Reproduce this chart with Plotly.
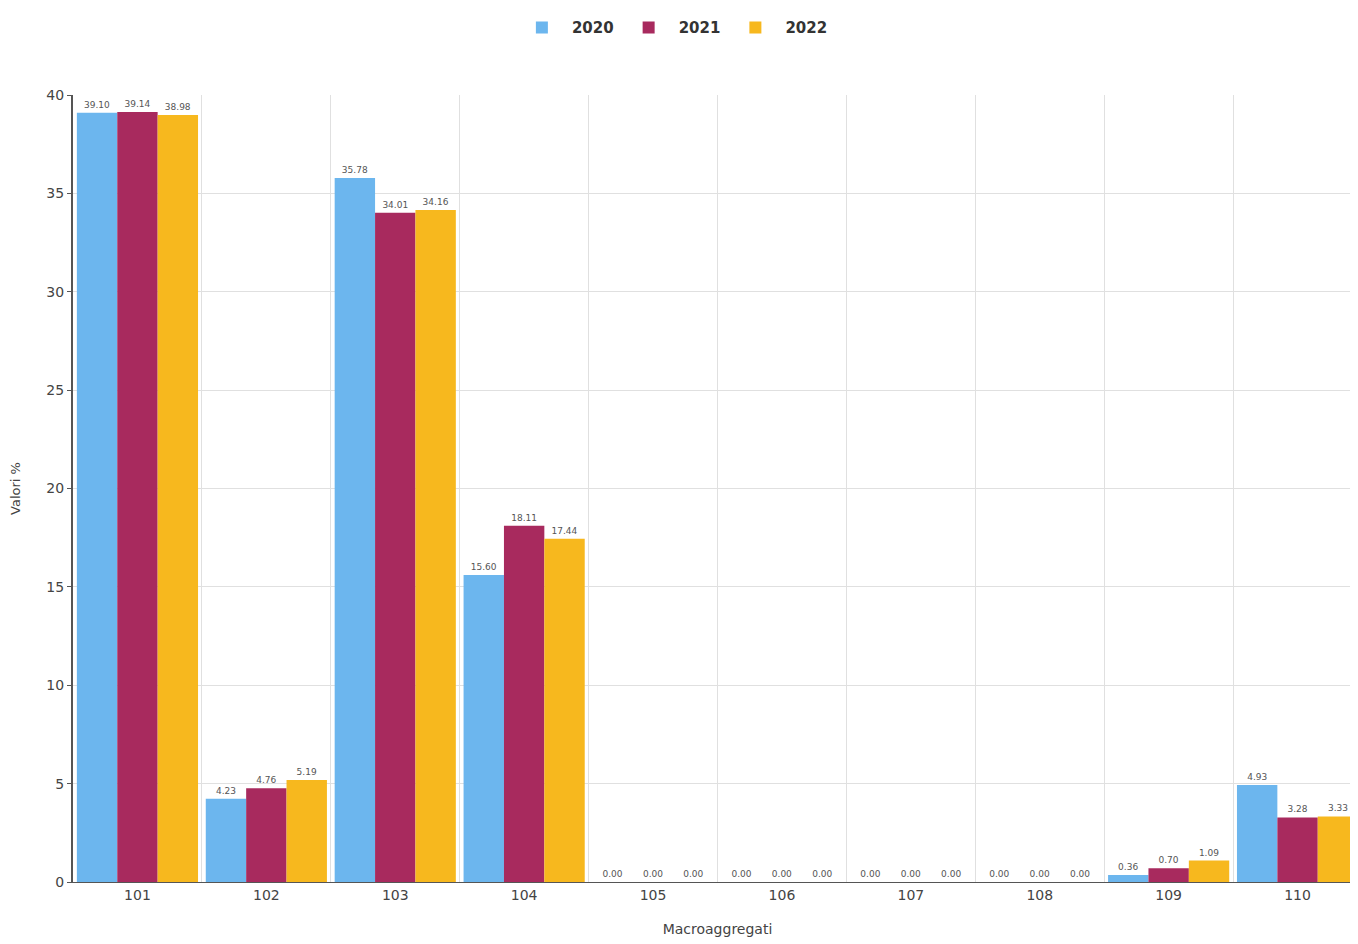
import plotly.graph_objects as go

categories = ["101", "102", "103", "104", "105", "106", "107", "108", "109", "110"]
years = ["2020", "2021", "2022"]
values_2020 = [39.10, 4.23, 35.78, 15.60, 0.00, 0.00, 0.00, 0.00, 0.36, 4.93]
values_2021 = [39.14, 4.76, 34.01, 18.11, 0.00, 0.00, 0.00, 0.00, 0.70, 3.28]
values_2022 = [38.98, 5.19, 34.16, 17.44, 0.00, 0.00, 0.00, 0.00, 1.09, 3.33]
colors = ["#6CB6EE", "#A82A5E", "#F7B81E"]

fig = go.Figure()
for name, vals, col in zip(years, [values_2020, values_2021, values_2022], colors):
    fig.add_trace(go.Bar(
        x=categories, y=vals, name=f"<b>{name}</b>",
        marker=dict(color=col, line=dict(width=0)),
        text=[f"{v:.2f}" for v in vals],
        textposition="outside",
        textfont=dict(size=9, color="#555555", family="DejaVu Sans"),
        cliponaxis=False,
    ))

fig.update_layout(
    width=1358, height=936,
    barmode="group", bargap=0.06, bargroupgap=0.0,
    plot_bgcolor="white", paper_bgcolor="white",
    margin=dict(l=65, r=4, t=86, b=62),
    font=dict(family="DejaVu Sans", color="#444444"),
    uniformtext=dict(minsize=8, mode="show"),
    legend=dict(orientation="h", x=0.465, xanchor="center",
                y=1.084, yanchor="middle",
                font=dict(size=15, color="#333333", family="DejaVu Sans"),
                itemwidth=50, traceorder="normal"),
    showlegend=True,
)
fig.update_xaxes(
    range=[-0.5, 9.5], tickson="boundaries", showgrid=True, gridcolor="#e0e0e0",
    gridwidth=1, ticks="", showline=True, linecolor="#555555", linewidth=1,
    tickfont=dict(size=14, color="#444444"),
    title=dict(text="Macroaggregati", font=dict(size=14, color="#444444"), standoff=22),
)
fig.update_yaxes(
    range=[0, 40], dtick=5, showgrid=True, gridcolor="#e0e0e0", gridwidth=1,
    ticks="outside", ticklen=4, tickcolor="#555555",
    showline=True, linecolor="#555555", linewidth=2, zeroline=False,
    tickfont=dict(size=14, color="#444444"),
    title=dict(text="Valori %", font=dict(size=13, color="#444444"), standoff=24),
)

fig.write_html("out.html")
